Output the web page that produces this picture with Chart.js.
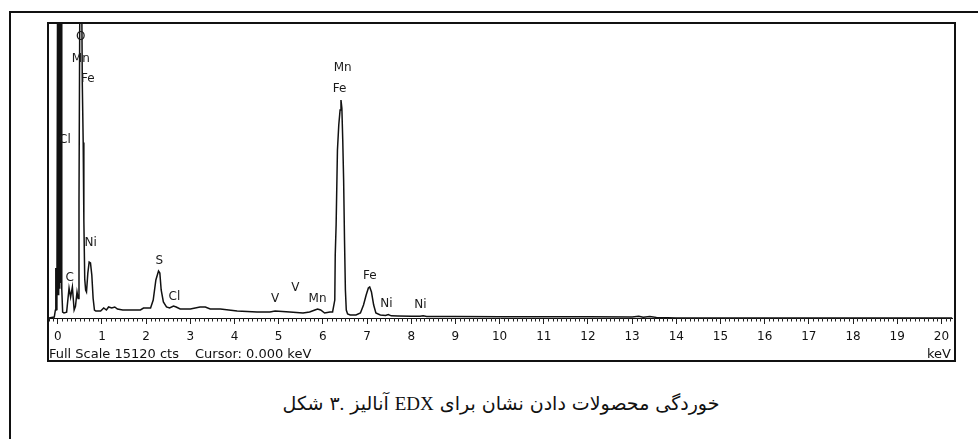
<!DOCTYPE html>
<html>
<head>
<meta charset="utf-8">
<script src="https://cdn.jsdelivr.net/npm/chart.js@4.4.1/dist/chart.umd.min.js"></script>
<style>
  html, body { margin: 0; padding: 0; background: #fff; }
  body { width: 978px; height: 439px; overflow: hidden; position: relative; font-family: "DejaVu Sans", sans-serif; color: #111; }
  #frame { position: absolute; left: 9px; top: 11px; width: 2000px; height: 2000px; border: 2px solid #111; }
  #panel { position: absolute; left: 47px; top: 22px; width: 905px; height: 336px; border: 2px solid #111; }
  #spectrum { position: absolute; left: 48px; top: 23px; }
  .foot { position: absolute; top: 346px; font-size: 13px; line-height: 15px; white-space: nowrap; }
  #caption { position: absolute; left: 0; top: 390px; width: 1002px; display: flex; justify-content: center; align-items: baseline; gap: 6px; font-family: "Liberation Serif", "DejaVu Sans", serif; font-size: 19px; line-height: 28px; direction: ltr; }
  #caption span { display: inline-block; }
</style>
</head>
<body>
<div id="frame"></div>
<div id="panel"></div>
<canvas id="spectrum" width="907" height="338"></canvas>
<div class="foot" style="left:49px">Full Scale 15120 cts</div>
<div class="foot" style="left:195px">Cursor: 0.000 keV</div>
<div class="foot" style="left:927px">keV</div>
<div id="caption">
  <span>شکل</span><span>۳.</span><span>آنالیز</span><span>EDX</span><span>برای</span><span>نشان</span><span>دادن</span><span>محصولات</span><span>خوردگی</span>
</div>
<script>
// EDX spectrum: energy (keV) and detector counts
const energyKeV = [
  -0.20, -0.08, -0.055, -0.045, -0.035, -0.02, -0.005, 0.005, 0.015, 0.025, 0.035, 0.045, 0.055, 0.065, 0.075, 0.09, 0.11, 0.14,
  0.20, 0.255, 0.29, 0.33, 0.37, 0.40, 0.435, 0.46, 0.48, 0.50, 0.54, 0.555, 0.575, 0.59, 0.61, 0.63,
  0.65, 0.68, 0.71, 0.74, 0.77, 0.80, 0.83, 0.86, 0.97, 1.04, 1.10, 1.15, 1.22, 1.29, 1.35, 1.47,
  1.65, 1.87, 1.94, 2.10, 2.16, 2.22, 2.28, 2.31, 2.34, 2.39, 2.46, 2.53, 2.62, 2.68, 2.77, 3.00,
  3.22, 3.34, 3.45, 3.68, 4.06, 4.51, 4.80, 4.92, 5.25, 5.55, 5.70, 5.82, 5.88, 5.95, 6.04, 6.16,
  6.22, 6.27, 6.28, 6.30, 6.33, 6.36, 6.39, 6.41, 6.43, 6.45, 6.47, 6.49, 6.51, 6.53, 6.56, 6.62,
  6.75, 6.85, 6.92, 6.98, 7.03, 7.06, 7.10, 7.15, 7.20, 7.30, 7.42, 7.48, 7.55, 7.70, 8.00, 8.20,
  8.27, 8.35, 9.00, 10.0, 11.0, 12.0, 13.0, 13.15, 13.25, 13.40, 13.55, 13.80, 14.0, 20.25
];
const counts = [
  0, 50, 400, 2560, 900, 400, 17000, 1200, 17000, 1200, 17000, 1500, 17000, 1800, 17000, 1500, 300, 256,
  300, 1538, 1076, 1589, 410, 600, 1332, 1000, 6000, 17000, 17000, 12000, 9000, 5000, 2000, 1435,
  1332, 2300, 2870, 2820, 2200, 1000, 410, 359, 359, 512, 410, 564, 512, 564, 461, 410,
  410, 410, 512, 512, 922, 1948, 2409, 2306, 1435, 820, 564, 512, 615, 564, 461, 461,
  564, 564, 461, 461, 359, 307, 307, 359, 307, 256, 307, 410, 461, 410, 256, 307,
  307, 922, 3229, 4766, 8610, 9891, 10660, 11172, 10762, 9122, 7072, 3997, 1435, 410, 205, 154,
  154, 256, 666, 1179, 1538, 1589, 1332, 666, 256, 154, 130, 180, 110, 100, 90, 85,
  110, 80, 75, 70, 65, 60, 55, 90, 40, 80, 30, 10, 0, 0
];

// Energy axis labels
const tickKeV = [0, 1, 2, 3, 4, 5, 6, 7, 8, 9, 10, 11, 12, 13, 14, 15, 16, 17, 18, 19, 20];

// Element markers placed at (keV, counts)
const peakText   = ['O', 'Mn', 'Fe', 'Cl', 'Ni', 'C', 'S', 'Cl', 'V', 'V', 'Mn', 'Mn', 'Fe', 'Fe', 'Ni', 'Ni'];
const peakKeV    = [0.52, 0.52, 0.68, 0.16, 0.745, 0.27, 2.30, 2.64, 4.92, 5.38, 5.88, 6.45, 6.38, 7.06, 7.44, 8.21];
const peakCounts = [14400, 13300, 12250, 9122, 3844, 2050, 2921, 1076, 974, 1538, 974, 12812, 11736, 2152, 717, 666];

const fullScale = 15120;

const minorTicks = {
  id: 'minorTicks',
  afterDraw(chart) {
    const x = chart.scales.x;
    const ctx = chart.ctx;
    const y0 = chart.chartArea.bottom;
    ctx.save();
    ctx.strokeStyle = '#222';
    ctx.lineWidth = 1;
    ctx.beginPath();
    for (let i = -2; i <= 202; i++) {
      if (i % 10 === 0) continue;
      const px = Math.round(x.getPixelForValue(i / 10)) + 0.5;
      if (px < chart.chartArea.left || px > chart.chartArea.right) continue;
      ctx.moveTo(px, y0);
      ctx.lineTo(px, y0 + 3.5);
    }
    ctx.stroke();
    ctx.restore();
  }
};

const peakLabels = {
  id: 'peakLabels',
  afterDatasetsDraw(chart) {
    const { ctx, scales: { x, y } } = chart;
    ctx.save();
    ctx.fillStyle = '#1a1a1a';
    ctx.font = '12px "DejaVu Sans", sans-serif';
    ctx.textAlign = 'center';
    ctx.textBaseline = 'middle';
    peakText.forEach((t, i) => {
      ctx.fillText(t, x.getPixelForValue(peakKeV[i]), y.getPixelForValue(peakCounts[i]));
    });
    ctx.restore();
  }
};

new Chart(document.getElementById('spectrum'), {
  type: 'line',
  data: {
    datasets: [{
      data: energyKeV.map((e, i) => ({ x: e, y: counts[i] })),
      borderColor: '#111',
      borderWidth: 1.5,
      pointRadius: 0,
      tension: 0,
      fill: false
    }]
  },
  options: {
    responsive: false,
    animation: false,
    devicePixelRatio: 1,
    layout: { padding: 0 },
    plugins: { legend: { display: false }, tooltip: { enabled: false } },
    scales: {
      x: {
        type: 'linear',
        min: -0.203,
        max: 20.248,
        afterBuildTicks(scale) { scale.ticks = tickKeV.map(v => ({ value: v })); },
        afterFit(scale) { scale.height = 43; },
        border: { display: true, color: '#111', width: 1 },
        grid: { drawOnChartArea: false, drawTicks: true, tickLength: 6, color: '#222', lineWidth: 1 },
        ticks: {
          color: '#111',
          font: { family: '"DejaVu Sans", sans-serif', size: 12 },
          padding: 6,
          maxRotation: 0,
          autoSkip: false,
          callback: v => String(v)
        }
      },
      y: {
        display: false,
        min: 0,
        max: fullScale
      }
    }
  },
  plugins: [minorTicks, peakLabels]
});
</script>
</body>
</html>
